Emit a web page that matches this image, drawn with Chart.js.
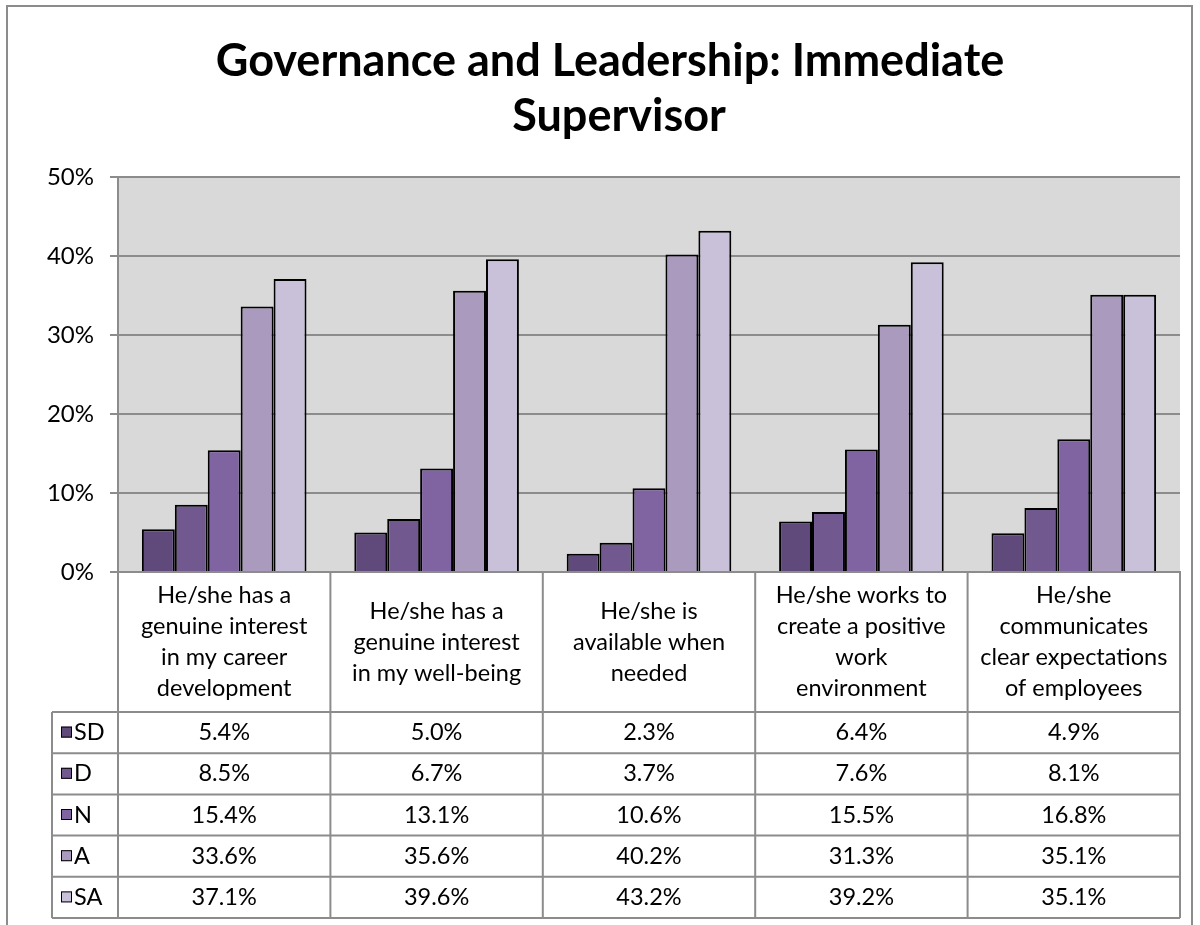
<!DOCTYPE html>
<html>
<head>
<meta charset="utf-8">
<script src="https://cdn.jsdelivr.net/npm/chart.js@4/dist/chart.umd.min.js"></script>
<style>
  body { margin: 0; background: #fff; }
  canvas { display: block; }
</style>
</head>
<body>
<canvas id="supervisorChart" width="1200" height="925"></canvas>
<script>
var titleLines = ["Governance and Leadership: Immediate", "Supervisor"];

var categories = [
    ["He/she has a", "genuine interest", "in my career", "development"],
    ["He/she has a", "genuine interest", "in my well-being"],
    ["He/she is", "available when", "needed"],
    ["He/she works to", "create a positive", "work", "environment"],
    ["He/she", "communicates", "clear expectations", "of employees"]
];

var seriesNames = ["SD", "D", "N", "A", "SA"];
var sdValues = [5.4, 5.0, 2.3, 6.4, 4.9];
var dValues = [8.5, 6.7, 3.7, 7.6, 8.1];
var nValues = [15.4, 13.1, 10.6, 15.5, 16.8];
var aValues = [33.6, 35.6, 40.2, 31.3, 35.1];
var saValues = [37.1, 39.6, 43.2, 39.2, 35.1];
var yTicks = [0, 10, 20, 30, 40, 50];

var colors = ["#604a7b", "#71598f", "#8064a2", "#aa9abe", "#c9c1d9"];
var font = "Lato, 'Open Sans', sans-serif";

var allValues = [sdValues, dValues, nValues, aValues, saValues];

// grey plot area + outer frame + title
var backgroundPlugin = {
    id: "plotBackground",
    beforeDraw: function (chart) {
        var ctx = chart.ctx, area = chart.chartArea;
        ctx.save();
        ctx.fillStyle = "#d9d9d9";
        ctx.fillRect(area.left, area.top, area.right - area.left, area.bottom - area.top);
        ctx.strokeStyle = "#8c8c8c";
        ctx.lineWidth = 2;
        ctx.beginPath();
        ctx.moveTo(7, 930);
        ctx.lineTo(7, 6);
        ctx.lineTo(1192, 6);
        ctx.lineTo(1192, 930);
        ctx.stroke();

        ctx.fillStyle = "#000";
        ctx.font = "bold 45px " + font;
        ctx.textAlign = "center";
        ctx.textBaseline = "middle";
        ctx.fillText(titleLines[0], 610, 61);
        ctx.fillText(titleLines[1], 619, 116);
        ctx.restore();
    }
};

// data table under the chart
var tablePlugin = {
    id: "dataTable",
    afterDraw: function (chart) {
        var ctx = chart.ctx, area = chart.chartArea, xs = chart.scales.x;
        var headTop = area.bottom, headBottom = area.bottom + 140;
        var rowH = 41.2, legendLeft = 52;
        var edges = [area.left];
        for (var i = 0; i < categories.length - 1; i++) {
            edges.push((xs.getPixelForValue(i) + xs.getPixelForValue(i + 1)) / 2);
        }
        edges.push(area.right);
        var tableBottom = headBottom + rowH * seriesNames.length;

        ctx.save();
        ctx.strokeStyle = "#8c8c8c";
        ctx.lineWidth = 2;
        ctx.beginPath();
        for (var e = 0; e < edges.length; e++) {
            ctx.moveTo(edges[e], headTop);
            ctx.lineTo(edges[e], tableBottom);
        }
        ctx.moveTo(legendLeft, headBottom);
        ctx.lineTo(legendLeft, tableBottom);
        for (var r = 0; r <= seriesNames.length; r++) {
            ctx.moveTo(legendLeft, headBottom + r * rowH);
            ctx.lineTo(area.right, headBottom + r * rowH);
        }
        ctx.stroke();

        ctx.fillStyle = "#000";
        ctx.font = "23.5px " + font;
        ctx.textAlign = "center";
        ctx.textBaseline = "middle";
        for (var c = 0; c < categories.length; c++) {
            var cx = (edges[c] + edges[c + 1]) / 2;
            var lines = categories[c];
            var lh = 31;
            var y0 = (headTop + headBottom) / 2 - (lines.length - 1) * lh / 2;
            for (var l = 0; l < lines.length; l++) {
                ctx.fillText(lines[l], cx, y0 + l * lh);
            }
            for (var s = 0; s < seriesNames.length; s++) {
                ctx.fillText(allValues[s][c].toFixed(1) + "%", cx, headBottom + rowH * (s + 0.5));
            }
        }

        ctx.textAlign = "left";
        for (var k = 0; k < seriesNames.length; k++) {
            var cy = headBottom + rowH * (k + 0.5);
            ctx.fillStyle = colors[k];
            ctx.fillRect(61, cy - 6, 11, 11);
            ctx.strokeStyle = "#000";
            ctx.lineWidth = 1;
            ctx.strokeRect(61.5, cy - 5.5, 10, 10);
            ctx.fillStyle = "#000";
            ctx.fillText(seriesNames[k], 74, cy);
        }
        ctx.restore();
    }
};

var datasets = [];
for (var i = 0; i < seriesNames.length; i++) {
    datasets.push({
        label: seriesNames[i],
        data: allValues[i],
        backgroundColor: colors[i],
        borderColor: "#000",
        borderWidth: 2,
        borderSkipped: "start",
        categoryPercentage: 0.775,
        barPercentage: 1.0
    });
}

new Chart(document.getElementById("supervisorChart").getContext("2d"), {
    type: "bar",
    data: {
        labels: categories.map(function (c) { return c.join(" "); }),
        datasets: datasets
    },
    options: {
        responsive: false,
        animation: false,
        devicePixelRatio: 1,
        layout: {
            padding: { top: 177, right: 20, bottom: 345, left: 0 }
        },
        plugins: {
            legend: { display: false },
            title: { display: false },
            tooltip: { enabled: false }
        },
        scales: {
            x: {
                grid: { display: false },
                border: { display: true, color: "#8c8c8c", width: 2 },
                ticks: { display: false }
            },
            y: {
                min: 0,
                max: 50,
                afterBuildTicks: function (scale) {
                    scale.ticks = yTicks.map(function (v) { return { value: v }; });
                },
                afterFit: function (scale) {
                    scale.width = 118;
                },
                grid: { color: "#8c8c8c", lineWidth: 2, tickLength: 8 },
                border: { display: true, color: "#8c8c8c", width: 2 },
                ticks: {
                    padding: 16,
                    color: "#000",
                    font: { family: font, size: 24 },
                    callback: function (v) { return v + "%"; }
                }
            }
        }
    },
    plugins: [backgroundPlugin, tablePlugin]
});
</script>
</body>
</html>
